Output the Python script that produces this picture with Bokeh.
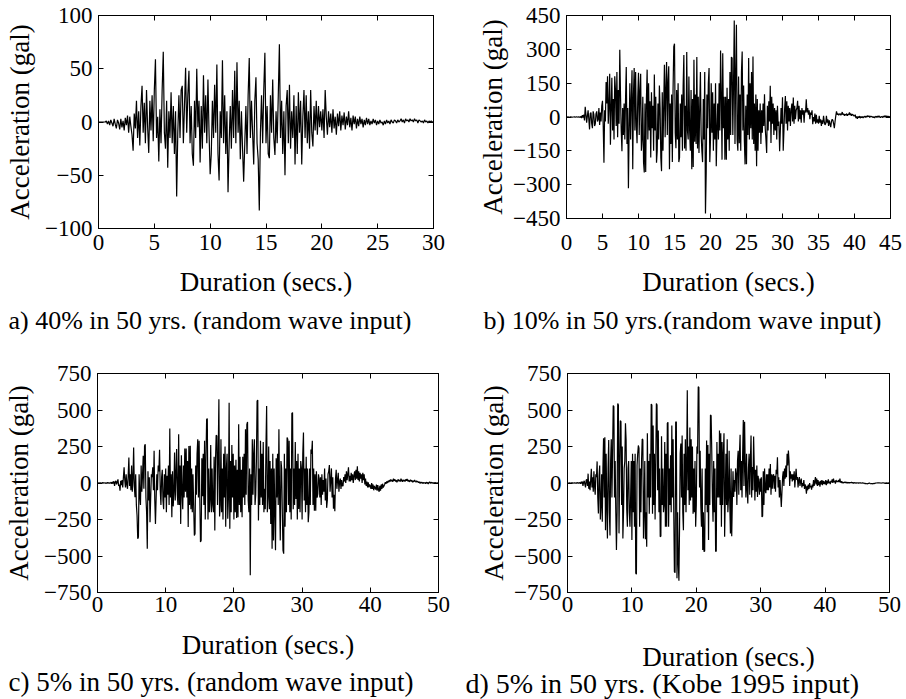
import numpy as np
from bokeh.plotting import figure
from bokeh.layouts import column, row
from bokeh.models import LinearAxis, FixedTicker, Range1d, Title
from bokeh.embed import file_html
from bokeh.resources import INLINE

FONT = "Liberation Serif"

# ---------------- data (one value per 0.1 s) ----------------
a_step = 0.1
a_acc = [
    0, 0, 0, 0, 0, 0, 0, 1, -2, 1,
    -3, 2, -1, -4, 3, -2, -6, 2, -1, -7,
    3, -5, 1, -8, 4, -3, 6, -10, 5, -4,
    -12, -27, 8, -6, 20, -15, 10, -22, 15, 34,
    -10, 18, -20, 30, -5, -29, 20, -8, 25, -18,
    30, 59, -15, 5, -37, 12, -20, 30, 66, -10,
    -25, 20, -43, 10, -15, 28, -20, 15, -30, 10,
    -70, -10, 25, -15, 30, 34, -20, 15, 51, -10,
    25, 48, -20, 15, -30, -41, 20, -15, 50, -5,
    20, -38, 15, -25, 44, -10, 25, -20, 40, -10,
    -49, -30, 20, -15, 35, -10, 54, -30, -55, 10,
    -15, 58, -20, 25, -30, 10, -66, -20, 15, -25,
    30, -15, 48, -20, 56, -10, 20, -35, 10, -25,
    -56, -20, 15, -30, 25, 60, -15, 20, -10, -40,
    20, 42, -20, -35, -83, -10, 25, -20, 30, 65,
    -20, 15, -30, -34, 25, -10, 40, -15, -31, 10,
    -20, 25, 73, -15, 20, -30, 10, -50, 15, 30,
    -20, 35, -25, 10, -15, 25, -40, 15, -30, 28,
    -10, 20, -40, 5, 30, -15, 25, -20, 10, -25,
    30, -10, -23, 15, -8, 20, -12, 15, -5, 10,
    -8, 12, -15, 30, 5, -12, 10, -5, 8, -10,
    12, -6, 5, -12, 8, -4, 10, -8, 6, -3,
    9, -7, 5, -3, 10, -5, 4, -8, 6, -2,
    5, -6, 3, -4, 5, -2, 3, -5, 2, -3,
    4, -2, 3, -3, 1, -2, 3, -1, 2, -3,
    1, -2, 2, -1, 0, -3, 1, -2, 2, -1,
    1, -2, 2, 0, -1, 2, 1, -1, 2, 0,
    1, 3, 0, 2, -1, 3, 1, 2, 0, 3,
    1, 2, 0, 3, 1, 2, -1, 2, 1, 0,
    1, -1, 2, 0, 1, -1, 1, 0, 1, 0,
    0,
]

b_step = 0.1
b_acc = [
    0, 0, 1, 0, -1, 0, 1, 0, -1, 0,
    0, 1, -1, 0, 1, 0, -1, 1, 0, -2,
    3, -5, 8, -3, 10, -15, 45, 10, -25, 5,
    30, -10, -55, 15, 20, -30, -50, 25, 10, -40,
    -30, 15, 25, -20, -10, 40, -35, 20, -20, 50,
    72, -40, -203, 30, -20, 155, 60, 181, -30, 50,
    192, -123, 40, 174, -60, 80, -100, 181, 120, -40,
    200, -90, 120, -30, 298, 100, -60, -152, 40, -80,
    60, -100, 80, 222, -120, 40, -316, -50, 150, -100,
    80, 207, -232, 100, 217, -60, 200, -40, -116, 90,
    196, -80, 120, 192, -150, -100, 90, -200, -246, 60,
    -244, 80, 210, -100, 150, -60, 70, -180, 110, -50,
    50, -150, 188, -60, 90, -203, -150, 60, -100, 140,
    40, -180, -240, 110, -150, 50, 232, -90, 130, 244,
    -80, 160, 225, -232, 60, -120, 100, -200, 120, 312,
    325, -70, -138, 120, -100, 150, -200, -180, 60, -90,
    100, -150, 140, 275, -140, 50, -150, 288, -60, -100,
    180, -60, -150, 120, -232, 80, -222, 254, -110, 100,
    -120, 266, -140, 90, -160, 40, 200, -80, -150, -200,
    80, -100, 200, -428, -250, 100, -50, 150, 217, -200,
    -100, 150, -70, 110, -150, 60, -100, 150, -218, -60,
    60, -100, 150, -60, 295, 100, -189, 283, -50, 90,
    -189, 90, -190, 130, -100, 80, -150, 200, -80, 266,
    261, -80, 150, 428, -120, 200, 409, -100, -150, 180,
    -116, 100, -150, 200, 290, -60, 140, -100, -210, 50,
    -210, 100, -80, 261, -100, 150, -50, 200, -100, 268,
    -120, 60, -150, 100, -218, 80, -150, 30, -70, 60,
    -120, 30, -70, 60, -40, 101, -50, -100, -160, 50,
    -60, 70, -20, 138, -115, 90, -30, 60, -80, 40,
    -60, 30, -100, 50, -40, -20, -152, -60, 40, -30,
    87, -150, -60, 40, 93, -30, 70, -60, 50, -20,
    40, -40, 30, 60, -20, 86, -30, 50, -10, 30,
    40, 72, -20, 50, -10, 30, -25, 40, 10, 30,
    -25, 30, 20, 78, 20, 40, 10, 30, -10, 20,
    10, 30, -32, 0, -20, 15, -30, 10, -25, -10,
    -30, 5, -25, -10, -40, -15, -30, 5, -20, -35,
    -30, 5, -25, -10, -40, -15, -30, -45, -20, -10,
    -15, -30, -50, -20, 5, 25, 10, 15, 8, 12,
    15, 8, 12, 22, 10, 15, 5, 12, 8, 15,
    5, 12, 10, 20, 8, 15, 5, 12, 10, 5,
    5, 10, -5, 3, -8, 2, -3, 4, -5, 2,
    -3, 2, -4, 1, 3, -2, 4, -1, 6, 2,
    5, -2, 4, 1, 3, 0, -3, 2, -4, 1,
    3, -2, 4, -1, 5, 0, -3, 2, 1, -2,
    4, -1, 6, 2, 5, -2, 4, 1, 3, 0,
    0,
]

c_step = 0.1
c_acc = [
    0, 0, 1, -1, 2, 0, -2, 1, 3, -1,
    0, 2, -3, 1, -2, 4, -1, 2, -3, 1,
    5, -5, 8, -4, 12, -20, 6, 15, -10, 8,
    25, -20, -10, -52, 15, -15, 20, -30, 40, 107,
    20, -30, 60, -10, -40, 50, 175, -20, 60, -50,
    120, -60, 30, 243, -20, -98, 60, -150, -223, -382,
    -370, 60, -80, -150, 120, -60, 50, 186, -40, 254,
    266, -100, -200, -450, 80, -120, 40, -268, -100, 60,
    40, 107, -50, 220, -120, -280, -100, 60, -50, 120,
    80, 227, -50, -150, 40, 90, -120, -180, 60, -100,
    100, -200, 50, -80, 120, -150, 373, -100, 60, -234,
    80, -160, -60, 209, -120, 60, 232, -80, -150, 334,
    -150, 120, -280, 190, -60, -180, 120, -100, 236, -60,
    236, -100, 150, -302, 254, -150, 255, -180, 100, -200,
    60, -150, -359, -348, 120, -80, 200, 300, -100, 289,
    -100, -404, -393, 170, -90, 200, -150, 290, -250, 150,
    436, 441, -250, 100, -200, -120, 260, -200, 100, -150,
    -200, 180, -325, 150, 327, 322, -150, 200, 573, -230,
    -150, 300, -200, 100, -250, 200, -100, 250, -300, 100,
    200, -245, -100, 550, -314, 150, -200, 260, -100, 200,
    -250, 120, -200, 160, -240, 90, -235, 402, -150, 180,
    -200, 90, -235, 180, -100, 200, -150, 368, -80, 402,
    418, -120, -200, 100, -632, 60, -150, 300, -80, 200,
    300, -150, -80, 150, 561, 568, -257, 100, -150, 290,
    -100, 200, -150, 280, -200, -40, -180, 250, 527, -200,
    -100, 250, -180, 150, -280, 100, -450, 200, -393, 100,
    -200, -461, 170, -100, 200, -150, 368, -100, -393, 150,
    100, -200, -461, -484, 200, -300, 100, -200, 311, 300,
    -150, 290, -200, 100, -250, 477, 482, -180, 100, -150,
    280, -110, 150, -250, 200, -178, 100, -200, 150, 100,
    -250, 200, 345, -120, 100, -200, 180, -150, 100, -268,
    -200, 100, -150, 230, 200, 290, -150, 100, -190, 60,
    -190, 80, -100, -75, 60, 30, -100, 40, -150, 60,
    -80, 20, -60, 100, -120, 30, -170, -120, 60, 80,
    123, -60, 20, 100, -100, 40, -177, -80, -193, 30,
    90, -40, 20, 70, -60, 10, 30, -40, 20, -20,
    -20, 40, 10, 60, 0, 80, 20, 60, 107, 10,
    50, 10, 70, 20, 60, 0, 50, 80, 20, 90,
    30, 114, 20, 80, 10, 70, 30, 60, 0, 70,
    20, 60, -10, 30, -20, 10, -30, 5, -30, -10,
    -20, -40, 0, -41, -10, -50, -20, -35, -45, -10,
    -52, -15, -45, -60, -20, -52, -10, -40, -5, -30,
    -20, -10, 5, -5, 10, 0, 15, 5, 20, 10,
    25, 12, 20, 8, 30, 15, 25, 10, 20, 5,
    15, 25, 12, 20, 10, 30, 18, 8, 22, 12,
    20, 10, 25, 15, 28, 12, 20, 8, 15, 22,
    10, 18, 5, 15, 8, 20, 12, 5, 15, 8,
    10, 2, 8, -3, 6, 0, 5, -4, 3, 0,
    2, -5, 6, -2, 4, -6, 3, 8, -2, 5,
    0, 3, -3, 2, -1, 4, -2, 1, -3, 2,
    0,
]

d_step = 0.1
d_acc = [
    0, 0, 0, 1, -1, 0, 1, -1, 2, 0,
    -1, 2, 0, -2, 1, -1, 3, -2, 1, 2,
    -5, 8, -3, 10, -20, 5, 15, -10, -30, 20,
    25, -20, 64, -40, 10, -50, 20, 98, -30, 40,
    -60, 80, -20, -80, 60, 40, 148, -100, -209, 50,
    120, -250, -150, 60, -266, 100, 307, -100, 314, -323,
    200, -150, -380, 100, 295, -200, -360, 150, 300, -100,
    200, 530, 523, -100, 150, -200, -459, -200, 545, 534,
    -345, 100, 427, 420, -150, 250, -380, -200, 100, 150,
    409, 295, -180, -300, 100, 150, -200, -300, -100, 150,
    -391, 200, -200, 150, -300, 200, -618, -625, 120, 200,
    257, 239, -300, 100, -200, 150, 302, 295, -380, -200,
    150, -386, -200, -436, 340, -100, 150, -210, 200, -100,
    541, 534, -210, 393, -150, 200, -250, 100, 545, 534,
    -50, 360, -200, 100, -368, -364, 320, -150, 100, -200,
    -150, 280, -300, 200, -300, 409, 416, -300, 100, -150,
    190, -200, 393, -100, 300, -200, -607, -614, 416, 420,
    -652, -200, -550, -670, -300, 200, 270, -100, 325, -200,
    -323, 200, -150, 300, -200, 100, 636, -50, 250, -150,
    380, -120, 300, -100, 250, -210, 100, -200, 150, -300,
    -150, 250, 200, 659, 655, -30, 220, -150, -300, 100,
    -459, -200, -470, -466, 100, -150, 291, -200, 261, -391,
    200, -150, 466, 461, 220, -100, -265, 150, -200, 100,
    -470, -466, 280, -100, 200, -100, 359, -150, 341, -300,
    280, -150, 200, 341, -368, -100, 200, -150, 300, -200,
    -100, 220, -150, -345, 100, -364, -120, 80, -95, 20,
    -60, 100, 60, -150, 150, 220, -80, 200, 330, -50,
    150, -100, 200, 432, -20, 420, 100, -100, 200, -50,
    -141, 100, 200, -80, 150, 325, -100, 110, -50, 318,
    110, -120, 90, -60, 120, -95, 50, 0, -80, 30,
    -60, 40, -232, -227, 80, -150, 100, -50, -70, 60,
    -50, 60, -50, 100, -30, 130, -80, 60, -40, 50,
    60, -40, 50, -60, 91, 60, 177, -30, 40, -100,
    20, -80, -164, -60, 40, 80, -20, 100, 30, 120,
    40, 200, 120, 223, 150, -20, 80, 30, 60, 10,
    60, 20, 80, -30, 40, 98, 20, 40, -30, 20,
    40, -20, 10, 30, -30, 0, -20, 20, -40, -10,
    -30, -73, -20, -50, -10, -40, 0, -30, -20, -45,
    -10, -30, 20, -20, 10, 41, -10, 30, -20, 20,
    -15, 10, -25, 15, -10, 20, -15, 15, -5, 10,
    -10, 20, -15, 15, -5, 25, 0, 10, -8, 15,
    5, 25, 0, 30, 5, 15, -5, 20, 8, 12,
    8, 20, 5, 30, 3, 12, 0, 8, -2, 5,
    2, 8, 0, 6, -2, 5, 0, 4, -1, 3,
    2, 6, 0, 4, -2, 3, 0, 2, -1, 1,
    0, 2, -1, 1, 0, 2, -1, 0, 1, -1,
    0, -2, -4, -3, -5, -4, -6, -3, -2, 0,
    -4, -5, -3, -6, -4, -5, -2, -4, -1, 0,
    0, 1, 0, 2, 0, 1, 0, -1, 0, 1,
    0, 1, 0, -1, 0, 1, 0, 0, 1, 0,
    0,
]

a_xticks = [0, 5, 10, 15, 20, 25, 30]
a_yticks = [-100, -50, 0, 50, 100]
b_xticks = [0, 5, 10, 15, 20, 25, 30, 35, 40, 45]
b_yticks = [-450, -300, -150, 0, 150, 300, 450]
cd_xticks = [0, 10, 20, 30, 40, 50]
cd_yticks = [-750, -500, -250, 0, 250, 500, 750]

captions = [
    "a) 40% in 50 yrs. (random wave input)",
    "b) 10% in 50 yrs.(random wave input)",
    "c) 5% in 50 yrs. (random wave input)",
    "d) 5% in 50 yrs. (Kobe 1995 input)",
]
x_label = "Duration (secs.)"
y_label = "Acceleration (gal)"


def make_panel(acc, step, xmax, xticks, ymax, yticks, caption,
               left, fw, right, top, fh, bottom,
               xl_standoff, lab_standoff, ylab_standoff,
               cap_offset, cap_standoff, cap_size):
    t = np.arange(len(acc)) * step
    p = figure(frame_width=fw, frame_height=fh,
               min_border_left=left, min_border_right=right,
               min_border_top=top, min_border_bottom=bottom,
               x_range=Range1d(0, xmax), y_range=Range1d(-ymax, ymax),
               output_backend="svg", toolbar_location=None)
    p.line(t, acc, line_color="black", line_width=1.2)
    p.xgrid.visible = False
    p.ygrid.visible = False
    p.outline_line_color = "black"
    p.outline_line_width = 1
    p.background_fill_color = "white"
    p.border_fill_color = "white"

    for ax, ticks in ((p.xaxis[0], xticks), (p.yaxis[0], yticks)):
        ax.ticker = FixedTicker(ticks=ticks)
        ax.major_tick_in = 5
        ax.major_tick_out = 0
        ax.minor_tick_line_color = None
        ax.axis_line_color = "black"
        ax.major_tick_line_color = "black"
        ax.major_label_text_font = FONT
        ax.major_label_text_font_size = "23px"
        ax.major_label_text_color = "black"
        ax.axis_label_text_font = FONT
        ax.axis_label_text_font_size = "27px"
        ax.axis_label_text_font_style = "normal"
        ax.axis_label_text_color = "black"
    p.xaxis[0].axis_label = x_label
    p.yaxis[0].axis_label = y_label
    p.xaxis[0].major_label_standoff = xl_standoff
    p.yaxis[0].major_label_standoff = 6
    p.xaxis[0].axis_label_standoff = lab_standoff
    p.yaxis[0].axis_label_standoff = ylab_standoff

    # tick marks on the opposite sides (box with inner ticks)
    for side, ticks in (("above", xticks), ("right", yticks)):
        ax = LinearAxis(ticker=FixedTicker(ticks=ticks))
        ax.major_tick_in = 5
        ax.major_tick_out = 0
        ax.minor_tick_line_color = None
        ax.major_label_text_color = None
        ax.major_label_text_font_size = "0px"
        ax.major_label_standoff = 0
        p.add_layout(ax, side)

    cap = Title(text=caption, align="left", offset=cap_offset,
                text_font=FONT, text_font_size=cap_size,
                text_font_style="normal", text_color="black",
                standoff=cap_standoff)
    p.add_layout(cap, "below")
    return p


pa = make_panel(a_acc, a_step, 30, a_xticks, 100, a_yticks, captions[0],
                98, 335, 20, 15, 213, 112, 6, 14, 7, -90, 8, "26px")
pb = make_panel(b_acc, b_step, 45, b_xticks, 450, b_yticks, captions[1],
                113, 324, 16, 15, 203, 122, 16, 14, 2, -83, 8, "26px")
pc = make_panel(c_acc, c_step, 50, cd_xticks, 750, cd_yticks, captions[2],
                97, 341, 15, 32, 219, 108, 4, 15, 7, -89, 4, "27px")
pd = make_panel(d_acc, d_step, 50, cd_xticks, 750, cd_yticks, captions[3],
                114, 322, 17, 33, 219, 107, 4, 27, 2, -102, -17, "28px")

layout = column(row(pa, pb), row(pc, pd))
open("out.html", "w").write(file_html(layout, INLINE))
